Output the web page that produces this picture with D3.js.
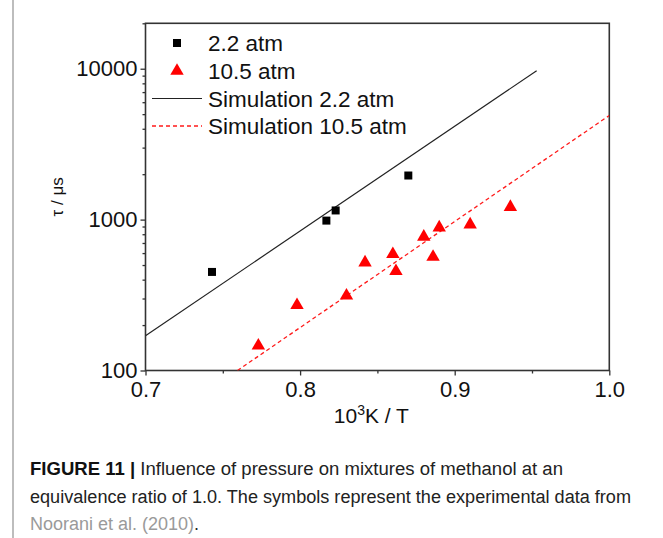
<!DOCTYPE html>
<html>
<head>
<meta charset="utf-8">
<script src="https://cdn.jsdelivr.net/npm/d3@7"></script>
<style>
  body { margin: 0; background: #fff; }
  text { font-family: "Liberation Sans", Arial, sans-serif; fill: #111; }
</style>
</head>
<body>
<svg id="chart" width="663" height="538"></svg>
<script>
// experimental points (10^3 K / T, tau in us)
const exp22X = [0.743, 0.817, 0.823, 0.870];
const exp22Y = [450, 985, 1150, 1960];
const exp105X = [0.773, 0.798, 0.830, 0.842, 0.860, 0.862, 0.880, 0.886, 0.890, 0.910, 0.936];
const exp105Y = [146, 271, 313, 519, 590, 455, 769, 566, 886, 928, 1211];

// simulation lines, read at their visible ends
const sim22X = [0.7, 0.953];
const sim22Y = [170, 9700];
const sim105X = [0.7595, 1.0];
const sim105Y = [100, 4900];

const xTicks = [0.7, 0.8, 0.9, 1.0];
const xMinor = [0.75, 0.85, 0.95];
const yTicks = [100, 1000, 10000];
const yMinor = [200, 300, 400, 500, 600, 700, 800, 900,
                2000, 3000, 4000, 5000, 6000, 7000, 8000, 9000, 20000];

const legendNames = ["2.2 atm", "10.5 atm", "Simulation 2.2 atm", "Simulation 10.5 atm"];

const margin = {top: 23.3, left: 145.5},
    width = 463.8,
    height = 347.2;

const svg = d3.select("#chart");

// grey bar on the left of the figure
svg.append("line")
    .attr("x1", 13).attr("x2", 13)
    .attr("y1", 0).attr("y2", 538)
    .attr("stroke", "#bdbdbd")
    .attr("stroke-width", 2);

const g = svg.append("g")
    .attr("transform", "translate(" + margin.left + "," + margin.top + ")");

const x = d3.scaleLinear().domain([0.7, 1.0]).range([0, width]);
const y = d3.scaleLog().domain([100, 20000]).range([height, 0]);

g.append("defs").append("clipPath")
    .attr("id", "clip")
    .append("rect")
    .attr("width", width)
    .attr("height", height);

// axes
const xAxis = g.append("g")
    .attr("transform", "translate(0," + height + ")")
    .call(d3.axisBottom(x).tickValues(xTicks).tickFormat(d3.format(".1f")).tickSize(5).tickSizeOuter(0));
const xAxisMinor = g.append("g")
    .attr("transform", "translate(0," + height + ")")
    .call(d3.axisBottom(x).tickValues(xMinor).tickFormat("").tickSize(3).tickSizeOuter(0));
const yAxis = g.append("g")
    .call(d3.axisLeft(y).tickValues(yTicks).tickFormat(d3.format("d")).tickSize(5).tickSizeOuter(0));
const yAxisMinor = g.append("g")
    .call(d3.axisLeft(y).tickValues(yMinor).tickFormat("").tickSize(3).tickSizeOuter(0));

[xAxis, xAxisMinor, yAxis, yAxisMinor].forEach(function(a) {
  a.select(".domain").remove();
  a.selectAll(".tick line").attr("stroke", "#333").attr("stroke-width", 1.3);
});
xAxis.selectAll(".tick text")
    .attr("font-size", 22).attr("dy", "1.0em").attr("y", 4)
    .style("font-family", "'Liberation Sans', Arial, sans-serif");
yAxis.selectAll(".tick text")
    .attr("font-size", 22).attr("x", -8)
    .style("font-family", "'Liberation Sans', Arial, sans-serif");

// frame
g.append("rect")
    .attr("width", width)
    .attr("height", height)
    .attr("fill", "none")
    .attr("stroke", "#333")
    .attr("stroke-width", 1.6);

// axis titles
const xTitle = g.append("text")
    .attr("x", width / 2 - 6)
    .attr("y", height + 53)
    .attr("text-anchor", "middle")
    .attr("font-size", 21);
xTitle.append("tspan").text("10");
xTitle.append("tspan").attr("font-size", 14).attr("dy", -8).text("3");
xTitle.append("tspan").attr("dy", 8).text("K / T");

g.append("text")
    .attr("transform", "translate(" + (-83) + "," + (height / 2) + ") rotate(-90)")
    .attr("text-anchor", "middle")
    .attr("font-size", 17)
    .text("τ / μs");

// simulation lines
const lineGen = d3.line()
    .x(function(d) { return x(d[0]); })
    .y(function(d) { return y(d[1]); });

const body = g.append("g").attr("clip-path", "url(#clip)");

body.append("path")
    .datum(d3.zip(sim22X, sim22Y))
    .attr("d", lineGen)
    .attr("fill", "none")
    .attr("stroke", "#222")
    .attr("stroke-width", 1.2);

body.append("path")
    .datum(d3.zip(sim105X, sim105Y))
    .attr("d", lineGen)
    .attr("fill", "none")
    .attr("stroke", "#ff1a1a")
    .attr("stroke-width", 1.3)
    .attr("stroke-dasharray", "4,3");

// experimental symbols
const square = d3.symbol().type(d3.symbolSquare).size(64);
const triangle = d3.symbol().type(d3.symbolTriangle).size(78);

g.selectAll(".sq")
    .data(d3.zip(exp22X, exp22Y))
    .enter().append("path")
    .attr("class", "sq")
    .attr("d", square)
    .attr("transform", function(d) { return "translate(" + x(d[0]) + "," + y(d[1]) + ")"; })
    .attr("fill", "#000");

g.selectAll(".tri")
    .data(d3.zip(exp105X, exp105Y))
    .enter().append("path")
    .attr("class", "tri")
    .attr("d", triangle)
    .attr("transform", function(d) { return "translate(" + x(d[0]) + "," + y(d[1]) + ")"; })
    .attr("fill", "#ff0000");

// legend
const legend = svg.append("g");
const rowY = [43, 71, 98.5, 126];
legendNames.forEach(function(name, i) {
  legend.append("text")
      .attr("x", 208)
      .attr("y", rowY[i])
      .attr("dy", "0.36em")
      .attr("font-size", 22.5)
      .text(name);
});
legend.append("path").attr("d", square).attr("transform", "translate(177," + rowY[0] + ")").attr("fill", "#000");
legend.append("path").attr("d", triangle).attr("transform", "translate(177," + rowY[1] + ")").attr("fill", "#ff0000");
legend.append("line").attr("x1", 152).attr("x2", 202).attr("y1", rowY[2]).attr("y2", rowY[2])
    .attr("stroke", "#222").attr("stroke-width", 1.2);
legend.append("line").attr("x1", 152).attr("x2", 202).attr("y1", rowY[3]).attr("y2", rowY[3])
    .attr("stroke", "#ff1a1a").attr("stroke-width", 1.3).attr("stroke-dasharray", "4,3");

// caption
const cap = svg.append("g").attr("font-size", 18);
const l1 = cap.append("text").attr("x", 30).attr("y", 475)
    .attr("textLength", 533).attr("lengthAdjust", "spacingAndGlyphs");
l1.append("tspan").attr("font-weight", "bold").text("FIGURE 11 |");
l1.append("tspan").style("fill", "#222").text(" Influence of pressure on mixtures of methanol at an");
cap.append("text").attr("x", 30).attr("y", 503)
    .attr("textLength", 601).attr("lengthAdjust", "spacingAndGlyphs")
    .style("fill", "#222")
    .text("equivalence ratio of 1.0. The symbols represent the experimental data from");
const l3 = cap.append("text").attr("x", 30).attr("y", 530);
l3.append("tspan").style("fill", "#9a9a9a").text("Noorani et al. (2010)");
l3.append("tspan").style("fill", "#222").text(".");
</script>
</body>
</html>
